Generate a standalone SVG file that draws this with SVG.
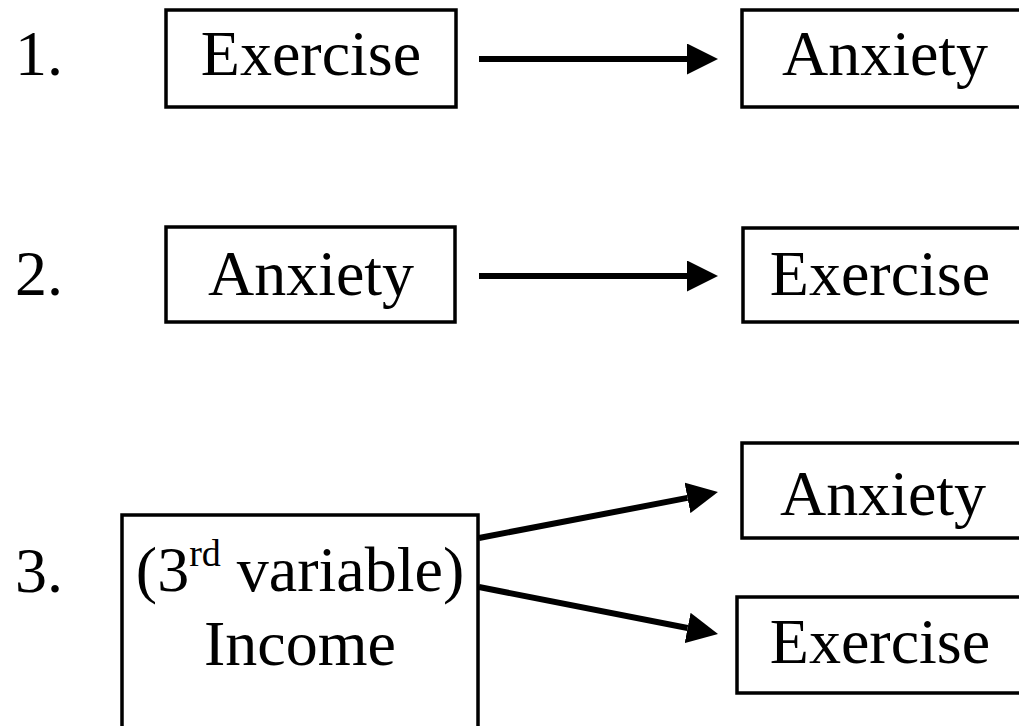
<svg xmlns="http://www.w3.org/2000/svg" width="1019" height="726" viewBox="0 0 1019 726">
<style>
.box{fill:#fff;stroke:#000;stroke-width:3.5}
.t{font-family:"Liberation Serif","Times New Roman",serif;font-size:64px;fill:#000}
.c{text-anchor:middle}
.sup{font-size:38px}
.edge{stroke:#000;stroke-width:6;fill:none;marker-end:url(#ah)}
</style>
<defs>
<marker id="ah" markerUnits="userSpaceOnUse" markerWidth="31" markerHeight="31" refX="0" refY="15.5" orient="auto" viewBox="0 0 31 31">
<path d="M0,0 L31,15.5 L0,31 Z" fill="#000"/>
</marker>
</defs>
<rect width="1019" height="726" fill="#fff"/>
<g id="labels">
<text class="t" x="15" y="75">1.</text>
<text class="t" x="15" y="295">2.</text>
<text class="t" x="15" y="592">3.</text>
</g>
<g id="n1-exercise">
<rect class="box" x="166" y="10" width="290" height="97"/>
<text class="t c" x="311" y="75">Exercise</text>
</g>
<g id="n1-anxiety">
<rect class="box" x="742" y="10" width="300" height="97"/>
<text class="t c" x="885" y="75">Anxiety</text>
</g>
<g id="n2-anxiety">
<rect class="box" x="166" y="227" width="289" height="95"/>
<text class="t c" x="311" y="295">Anxiety</text>
</g>
<g id="n2-exercise">
<rect class="box" x="743" y="228" width="300" height="94"/>
<text class="t c" x="880" y="295">Exercise</text>
</g>
<g id="n3-income">
<rect class="box" x="122" y="515" width="356" height="240"/>
<text class="t c" x="300" y="591">(3<tspan class="sup" dy="-25">rd</tspan><tspan dy="25"> variable)</tspan></text>
<text class="t c" x="300" y="665">Income</text>
</g>
<g id="n3-anxiety">
<rect class="box" x="742" y="443" width="300" height="95"/>
<text class="t c" x="883" y="515">Anxiety</text>
</g>
<g id="n3-exercise">
<rect class="box" x="737" y="597" width="305" height="96"/>
<text class="t c" x="880" y="663">Exercise</text>
</g>
<g id="connectors">
<line class="edge" x1="479" y1="59" x2="687" y2="59"/>
<line class="edge" x1="479" y1="276" x2="687" y2="276"/>
<line class="edge" x1="479" y1="538" x2="687.5" y2="497.9"/>
<line class="edge" x1="479" y1="587" x2="687.6" y2="628"/>
</g>
</svg>
